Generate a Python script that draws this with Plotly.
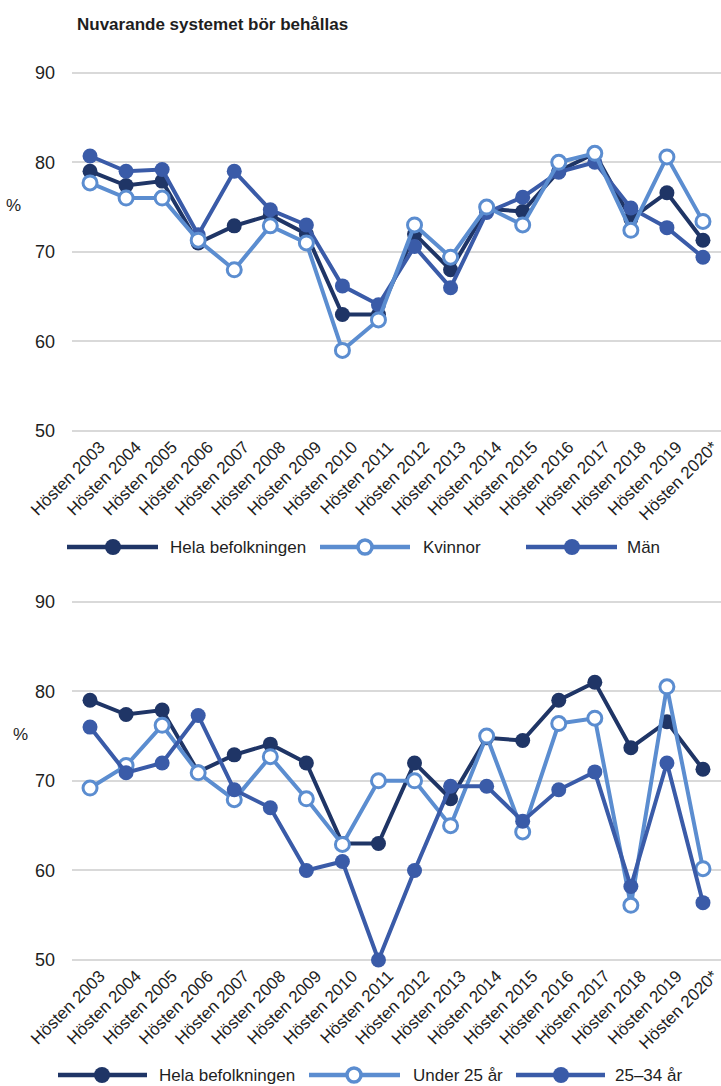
import plotly.graph_objects as go

W, H = 721, 1086

years = ["Hösten 2003", "Hösten 2004", "Hösten 2005", "Hösten 2006", "Hösten 2007",
         "Hösten 2008", "Hösten 2009", "Hösten 2010", "Hösten 2011", "Hösten 2012",
         "Hösten 2013", "Hösten 2014", "Hösten 2015", "Hösten 2016", "Hösten 2017",
         "Hösten 2018", "Hösten 2019", "Hösten 2020*"]

hela = [79.0, 77.4, 77.9, 71.0, 72.9, 74.1, 72.0, 63.0, 63.0, 72.0,
        68.0, 74.8, 74.5, 79.0, 81.0, 73.7, 76.6, 71.3]
kvinnor = [77.7, 76.0, 76.0, 71.3, 68.0, 72.9, 71.0, 59.0, 62.4, 73.0,
           69.4, 75.0, 73.0, 80.0, 81.0, 72.4, 80.6, 73.4]
man = [80.7, 79.0, 79.2, 71.9, 79.0, 74.7, 73.0, 66.2, 64.1, 70.6,
       66.0, 74.4, 76.1, 78.9, 80.0, 74.9, 72.7, 69.4]
under25 = [69.2, 71.7, 76.2, 70.9, 67.9, 72.7, 68.0, 62.9, 70.0, 70.0,
           65.0, 75.0, 64.3, 76.4, 77.0, 56.1, 80.5, 60.2]
age25_34 = [76.0, 70.9, 72.0, 77.3, 69.0, 67.0, 60.0, 61.0, 50.0, 60.0,
            69.4, 69.4, 65.5, 69.0, 71.0, 58.2, 72.0, 56.4]

title_text = "Nuvarande systemet bör behållas"
yticks = [50, 60, 70, 80, 90]

DARK = "#1f3566"
LIGHT = "#5b8dd0"
MID = "#3a5ba8"
TXT = "#1e1e1e"
GRID = "#d9d9d9"
FONT = "Liberation Sans, Arial, sans-serif"
FS = 17

def style(name):
    if name == "dark":
        return dict(line=dict(color=DARK, width=4),
                    marker=dict(size=15, color=DARK, line=dict(width=0)))
    if name == "light":
        return dict(line=dict(color=LIGHT, width=4),
                    marker=dict(size=14, color="white", line=dict(color=LIGHT, width=3)))
    return dict(line=dict(color=MID, width=4),
                marker=dict(size=15, color=MID, line=dict(width=0)))

fig = go.Figure()

top = [("Hela befolkningen", hela, "dark"), ("Män", man, "mid"), ("Kvinnor", kvinnor, "light")]
bottom = [("Hela befolkningen", hela, "dark"), ("Under 25 år", under25, "light"), ("25–34 år", age25_34, "mid")]

for name, vals, st in top:
    fig.add_trace(go.Scatter(x=years, y=vals, name=name, mode="lines+markers",
                             xaxis="x", yaxis="y", cliponaxis=False, showlegend=False,
                             **style(st)))
for name, vals, st in bottom:
    fig.add_trace(go.Scatter(x=years, y=vals, name=name, mode="lines+markers",
                             xaxis="x2", yaxis="y2", cliponaxis=False, showlegend=False,
                             **style(st)))

def py(p):
    return 1 - p / H

def px(p):
    return p / W

PAD = 0.2
UNIT = (431 - 72.7) / 40.0

axis_x = dict(type="category", range=[-0.5, 17.5], showgrid=False, showline=False,
              zeroline=False, ticks="", tickangle=-45, automargin=False, ticklabelshift=10,
              tickfont=dict(family=FONT, size=FS, color=TXT))
axis_y = dict(range=[50 - PAD, 90 + PAD], tickvals=yticks, showgrid=True, gridcolor=GRID,
              gridwidth=1.5, zeroline=False, showline=False, ticks="", ticklabelstandoff=16,
              automargin=False, tickfont=dict(family=FONT, size=FS + 1, color=TXT))

fig.update_layout(
    width=W, height=H,
    margin=dict(l=0, r=0, t=0, b=0, autoexpand=False),
    paper_bgcolor="white", plot_bgcolor="white",
    showlegend=False,
    xaxis=dict(domain=[px(72), 1], anchor="y", **axis_x),
    yaxis=dict(domain=[py(431 + PAD * UNIT), py(72.7 - PAD * UNIT)], anchor="x", **axis_y),
    xaxis2=dict(domain=[px(72), 1], anchor="y2", **axis_x),
    yaxis2=dict(domain=[py(960 + PAD * UNIT), py(601.7 - PAD * UNIT)], anchor="x2", **axis_y),
)

annotations = [
    dict(text="<b>" + title_text + "</b>", x=px(75), y=py(25), xref="paper", yref="paper",
         xanchor="left", yanchor="middle", showarrow=False,
         font=dict(family=FONT, size=17, color=TXT)),
    dict(text="%", x=px(14), y=py(205), xref="paper", yref="paper",
         xanchor="center", yanchor="middle", showarrow=False,
         font=dict(family=FONT, size=FS, color=TXT)),
    dict(text="%", x=px(20), y=py(734), xref="paper", yref="paper",
         xanchor="center", yanchor="middle", showarrow=False,
         font=dict(family=FONT, size=FS, color=TXT)),
]
shapes = []

def legend_item(x0, x1, xm, xt, yc, label, st):
    col = {"dark": DARK, "light": LIGHT, "mid": MID}[st]
    shapes.append(dict(type="line", xref="paper", yref="paper", x0=px(x0), x1=px(x1),
                       y0=py(yc), y1=py(yc), line=dict(color=col, width=4.5), layer="above"))
    fill = "white" if st == "light" else col
    r = 7 if st == "light" else 8
    shapes.append(dict(type="circle", xref="paper", yref="paper", xsizemode="pixel",
                       ysizemode="pixel", xanchor=px(xm), yanchor=py(yc),
                       x0=-r, x1=r, y0=-r, y1=r, fillcolor=fill,
                       line=dict(color=col, width=3.5 if st == "light" else 0), layer="above"))
    annotations.append(dict(text=label, x=px(xt), y=py(yc), xref="paper", yref="paper",
                            xanchor="left", yanchor="middle", showarrow=False,
                            font=dict(family=FONT, size=FS, color=TXT)))

legend_item(67, 158, 113, 168, 547, "Hela befolkningen", "dark")
legend_item(320, 410, 365, 421, 547, "Kvinnor", "light")
legend_item(526, 617, 572, 625, 547, "Män", "mid")

legend_item(58, 147, 102, 157, 1075, "Hela befolkningen", "dark")
legend_item(309, 400, 354, 411, 1075, "Under 25 år", "light")
legend_item(516, 605, 561, 613, 1075, "25–34 år", "mid")

fig.update_layout(annotations=annotations, shapes=shapes)

fig.write_html("out.html", config={"displayModeBar": False},
               post_script="document.body.style.margin='0';document.body.style.overflow='hidden';")
